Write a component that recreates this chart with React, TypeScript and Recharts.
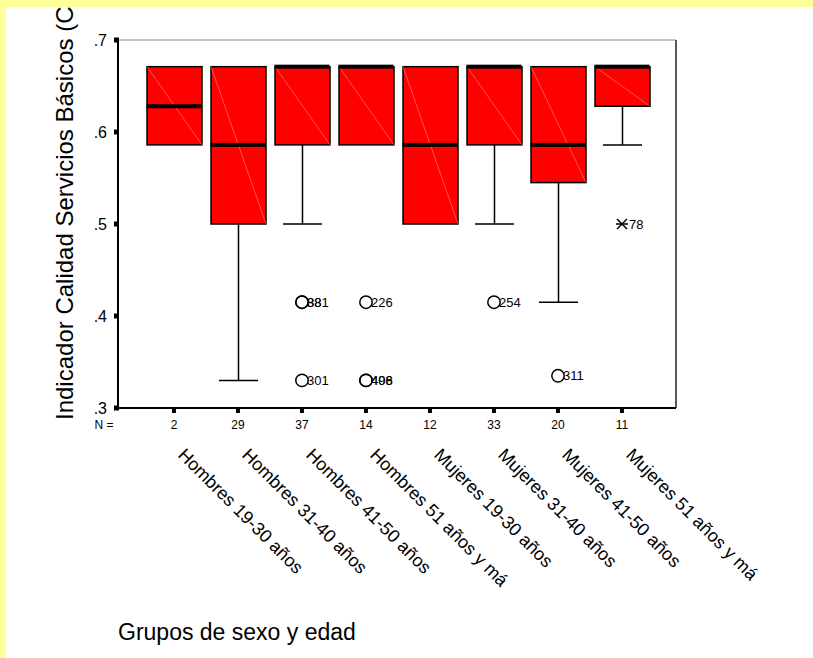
import React from "react";
import { ComposedChart, Bar, Scatter, XAxis, YAxis } from "recharts";

const groups = [
  "Hombres 19-30 años",
  "Hombres 31-40 años",
  "Hombres 41-50 años",
  "Hombres 51 años y má",
  "Mujeres 19-30 años",
  "Mujeres 31-40 años",
  "Mujeres 41-50 años",
  "Mujeres 51 años y má",
];
const counts = [2, 29, 37, 14, 12, 33, 20, 11];
const q1 = [0.586, 0.5, 0.586, 0.586, 0.5, 0.586, 0.545, 0.628];
const medians = [0.628, 0.586, 0.671, 0.671, 0.586, 0.671, 0.586, 0.671];
const q3 = [0.671, 0.671, 0.671, 0.671, 0.671, 0.671, 0.671, 0.671];
const whiskerLow = [null, 0.33, 0.5, null, null, 0.5, 0.415, 0.586];

const outlierGroups = [
  "Hombres 41-50 años",
  "Hombres 41-50 años",
  "Hombres 41-50 años",
  "Hombres 51 años y má",
  "Hombres 51 años y má",
  "Hombres 51 años y má",
  "Mujeres 31-40 años",
  "Mujeres 41-50 años",
];
const outlierValues = [0.415, 0.415, 0.33, 0.415, 0.33, 0.33, 0.415, 0.335];
const outlierCases = ["88", "381", "301", "226", "406", "498", "254", "311"];

const extremeGroups = ["Mujeres 51 años y má"];
const extremeValues = [0.5];
const extremeCases = ["78"];

const yTicks = [0.3, 0.4, 0.5, 0.6, 0.7];

const FONT = "'Liberation Sans', Arial, sans-serif";

const data = groups.map((name, i) => ({
  name,
  box: [q1[i], q3[i]],
  median: medians[i],
  whisker: whiskerLow[i] == null ? null : [whiskerLow[i], q1[i]],
}));
const outliers = outlierGroups.map((name, i) => ({ name, value: outlierValues[i], label: outlierCases[i] }));
const extremes = extremeGroups.map((name, i) => ({ name, value: extremeValues[i], label: extremeCases[i] }));

const fmt = (v: number) => v.toFixed(1).replace(/^0/, "");

const YTick = (p: any) => (
  <g>
    <rect x={p.x + 11 - 4} y={p.y - 2.5} width={5} height={5} fill="#000" />
    <text x={p.x} y={p.y} dy={6} textAnchor="end" fontSize={16} fill="#000" fontFamily={FONT}>
      {fmt(p.payload.value)}
    </text>
  </g>
);

const XTick = (p: any) => {
  const i = groups.indexOf(p.payload.value);
  return (
    <g>
      <rect x={p.x - 2} y={p.y + 1} width={4} height={4} fill="#000" />
      {i === 0 && (
        <text x={p.x - 70} y={p.y + 21} textAnchor="middle" fontSize={12} fill="#000" fontFamily={FONT}>
          N =
        </text>
      )}
      <text x={p.x} y={p.y + 21} textAnchor="middle" fontSize={12} fill="#000" fontFamily={FONT}>
        {counts[i]}
      </text>
      <text
        x={p.x + 3}
        y={p.y + 48}
        transform={`rotate(45 ${p.x + 3} ${p.y + 48})`}
        textAnchor="start"
        fontSize={18}
        fill="#000"
        fontFamily={FONT}
      >
        {p.payload.value}
      </text>
    </g>
  );
};

const BoxShape = (p: any) => (
  <g>
    <rect x={p.x} y={p.y} width={p.width} height={p.height} fill="#ff0000" stroke="#000" strokeWidth={1.5} />
    <line x1={p.x} y1={p.y} x2={p.x + p.width} y2={p.y + p.height} stroke="#ff8a8a" strokeWidth={0.6} />
  </g>
);

const WhiskerShape = (p: any) => {
  if (!p.payload || !p.payload.whisker) return <g />;
  const cx = p.x + p.width / 2;
  return (
    <g stroke="#000" strokeWidth={1.5}>
      <line x1={cx} y1={p.y} x2={cx} y2={p.y + p.height} />
      <line x1={p.x} y1={p.y + p.height} x2={p.x + p.width} y2={p.y + p.height} />
    </g>
  );
};

const MedianShape = (p: any) => <rect x={p.cx - 27.5} y={p.cy - 2} width={55} height={4} fill="#000" />;

const OutlierShape = (p: any) => (
  <g>
    <circle cx={p.cx} cy={p.cy} r={6.2} fill="none" stroke="#000" strokeWidth={1.5} />
    <text x={p.cx + 5} y={p.cy} dy={4.5} fontSize={13} fill="#000" fontFamily={FONT}>
      {p.payload.label}
    </text>
  </g>
);

const ExtremeShape = (p: any) => (
  <g>
    <g stroke="#000" strokeWidth={1.5}>
      <line x1={p.cx - 5} y1={p.cy - 5} x2={p.cx + 5} y2={p.cy + 5} />
      <line x1={p.cx - 5} y1={p.cy + 5} x2={p.cx + 5} y2={p.cy - 5} />
      <line x1={p.cx - 6} y1={p.cy} x2={p.cx + 6} y2={p.cy} />
    </g>
    <text x={p.cx + 7} y={p.cy} dy={4.5} fontSize={13} fill="#000" fontFamily={FONT}>
      {p.payload.label}
    </text>
  </g>
);

const YTitle = (p: any) => {
  const vb = p.viewBox;
  const x = vb.x - 5;
  const y = vb.y + vb.height + 12;
  return (
    <text x={x} y={y} transform={`rotate(-90 ${x} ${y})`} textAnchor="start" fontSize={24} fill="#000" fontFamily={FONT}>
      Indicador Calidad Servicios Básicos (C
    </text>
  );
};

const XTitle = (p: any) => {
  const vb = p.viewBox;
  return (
    <text x={vb.x} y={vb.y + 232} textAnchor="start" fontSize={23} fill="#000" fontFamily={FONT}>
      Grupos de sexo y edad
    </text>
  );
};

const pad = { left: 24, right: 22 };

export default function App() {
  return (
    <div style={{ position: "absolute", left: 0, top: 0, width: 813, height: 658, background: "#ffff99" }}>
      <div style={{ position: "absolute", left: 6, top: 7, width: 807, height: 651, background: "#fff", overflow: "hidden" }}>
        <ComposedChart
          width={807}
          height={651}
          data={data}
          margin={{ top: 32, right: 136, bottom: 220, left: 72 }}
          style={{ fontFamily: FONT }}
        >
          <XAxis
            xAxisId="main"
            dataKey="name"
            type="category"
            allowDuplicatedCategory={false}
            interval={0}
            padding={pad}
            height={30}
            tickSize={0}
            tickMargin={0}
            tickLine={false}
            axisLine={{ stroke: "#000", strokeWidth: 2 }}
            tick={<XTick />}
            label={XTitle}
          />
          <XAxis xAxisId="w" dataKey="name" type="category" allowDuplicatedCategory={false} padding={pad} hide />
          <XAxis
            xAxisId="top"
            dataKey="name"
            orientation="top"
            type="category"
            allowDuplicatedCategory={false}
            height={1}
            tick={false}
            tickLine={false}
            axisLine={{ stroke: "#888", strokeWidth: 1 }}
          />
          <YAxis
            yAxisId="v"
            type="number"
            domain={[0.3, 0.7]}
            ticks={yTicks}
            width={40}
            tickSize={6}
            tickMargin={5}
            tickLine={false}
            axisLine={{ stroke: "#000", strokeWidth: 2 }}
            tick={<YTick />}
            label={YTitle}
          />
          <YAxis
            yAxisId="r"
            orientation="right"
            type="number"
            domain={[0, 1]}
            width={1}
            tick={false}
            tickLine={false}
            axisLine={{ stroke: "#222", strokeWidth: 1.5 }}
          />
          <Bar xAxisId="main" yAxisId="v" dataKey="box" barSize={55} shape={<BoxShape />} isAnimationActive={false} />
          <Bar xAxisId="w" yAxisId="v" dataKey="whisker" barSize={39} shape={<WhiskerShape />} isAnimationActive={false} />
          <Scatter xAxisId="main" yAxisId="v" dataKey="median" shape={<MedianShape />} isAnimationActive={false} />
          <Scatter xAxisId="main" yAxisId="v" data={outliers} dataKey="value" shape={<OutlierShape />} isAnimationActive={false} />
          <Scatter xAxisId="main" yAxisId="v" data={extremes} dataKey="value" shape={<ExtremeShape />} isAnimationActive={false} />
        </ComposedChart>
      </div>
    </div>
  );
}
